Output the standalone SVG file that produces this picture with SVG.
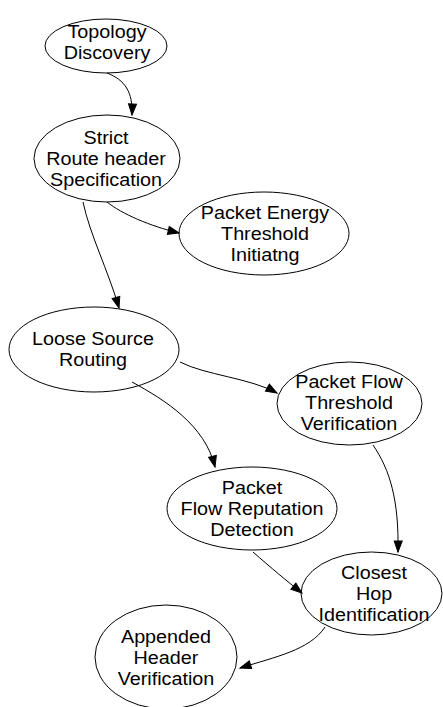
<svg xmlns="http://www.w3.org/2000/svg" width="443" height="707" viewBox="0 0 443 707">
<style>
.n ellipse{fill:none;stroke:#000;stroke-width:1}
.n text{font-family:"Liberation Sans",Arial,sans-serif;font-size:17.5px;fill:#000;text-anchor:middle}
.e path{fill:none;stroke:#000;stroke-width:1;marker-end:url(#ah)}
</style>
<defs>
<marker id="ah" markerUnits="userSpaceOnUse" markerWidth="12" markerHeight="9" refX="11" refY="4" orient="auto" overflow="visible">
<path d="M0,0 L11,4 L0,8 z" fill="#000" stroke="#000" stroke-width="1"/>
</marker>
</defs>
<rect width="443" height="707" fill="#fff"/>
<g class="e" id="edges">
<path d="M107,73 C125,80 133,92 132,115"/>
<path d="M107,202 C122,214 150,226 179,233"/>
<path d="M83,202 C90,235 108,270 119,308"/>
<path d="M180,362 C205,375 250,378 277,393"/>
<path d="M132,382 C165,400 205,425 215,467"/>
<path d="M373,445 C390,470 399,500 398,552"/>
<path d="M253,552 C270,567 288,582 302,593"/>
<path d="M325,627 C310,650 275,657 240,668"/>
</g>
<g class="n" id="topology">
<ellipse cx="106" cy="46" rx="61" ry="27"/>
<text transform="matrix(1.13 0 0 1 107 0)"><tspan x="0" y="38">Topology</tspan><tspan x="0" y="59">Discovery</tspan></text>
</g>
<g class="n" id="strict">
<ellipse cx="107" cy="158.5" rx="73" ry="43.5"/>
<text transform="matrix(1.13 0 0 1 106 0)"><tspan x="0" y="144">Strict</tspan><tspan x="0" y="165">Route header</tspan><tspan x="0" y="186">Specification</tspan></text>
</g>
<g class="n" id="energy">
<ellipse cx="264" cy="233.5" rx="85" ry="41.5"/>
<text transform="matrix(1.13 0 0 1 265 0)"><tspan x="0" y="219">Packet Energy</tspan><tspan x="0" y="240">Threshold</tspan><tspan x="0" y="261">Initiatng</tspan></text>
</g>
<g class="n" id="loose">
<ellipse cx="94" cy="349.5" rx="85" ry="42.5"/>
<text transform="matrix(1.13 0 0 1 93 0)"><tspan x="0" y="345">Loose Source</tspan><tspan x="0" y="366">Routing</tspan></text>
</g>
<g class="n" id="flowthreshold">
<ellipse cx="349.5" cy="403.5" rx="72.5" ry="41.5"/>
<text transform="matrix(1.13 0 0 1 349 0)"><tspan x="0" y="388">Packet Flow</tspan><tspan x="0" y="409">Threshold</tspan><tspan x="0" y="430">Verification</tspan></text>
</g>
<g class="n" id="reputation">
<ellipse cx="252" cy="508.5" rx="85" ry="41.5"/>
<text transform="matrix(1.13 0 0 1 252 0)"><tspan x="0" y="494">Packet</tspan><tspan x="0" y="515">Flow Reputation</tspan><tspan x="0" y="536">Detection</tspan></text>
</g>
<g class="n" id="closest">
<ellipse cx="371.5" cy="593.5" rx="70.5" ry="41.5"/>
<text transform="matrix(1.13 0 0 1 374 0)"><tspan x="0" y="579">Closest</tspan><tspan x="0" y="600">Hop</tspan><tspan x="0" y="621">Identification</tspan></text>
</g>
<g class="n" id="appended">
<ellipse cx="166" cy="657" rx="71" ry="52"/>
<text transform="matrix(1.13 0 0 1 166 0)"><tspan x="0" y="643">Appended</tspan><tspan x="0" y="664">Header</tspan><tspan x="0" y="685">Verification</tspan></text>
</g>
</svg>
